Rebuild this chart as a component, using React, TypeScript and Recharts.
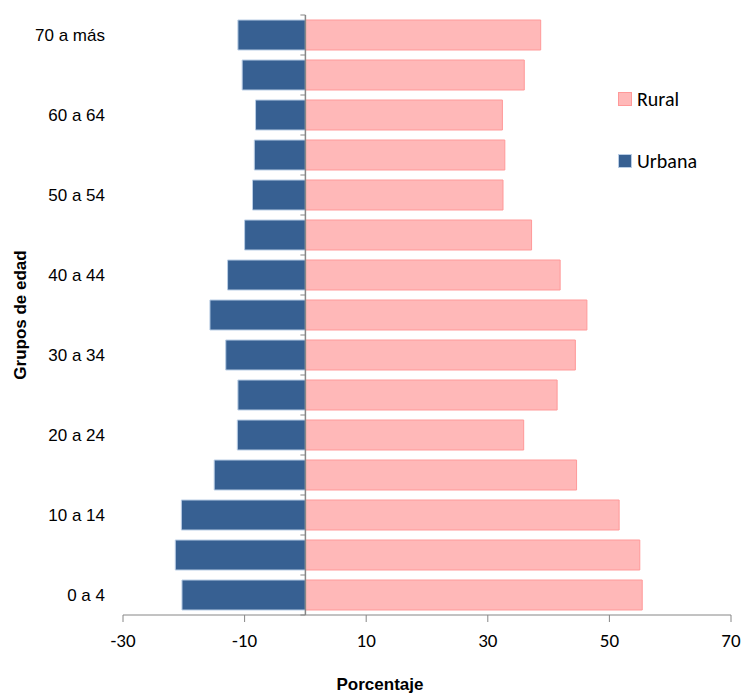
import { BarChart, Bar, XAxis, YAxis, ReferenceLine } from "recharts";

const grupos = [
  "0 a 4", "5 a 9", "10 a 14", "15 a 19", "20 a 24", "25 a 29", "30 a 34", "35 a 39",
  "40 a 44", "45 a 49", "50 a 54", "55 a 59", "60 a 64", "65 a 69", "70 a más",
];
const urbana = [-20.3, -21.4, -20.4, -15.0, -11.2, -11.1, -13.1, -15.7, -12.8, -10.0, -8.7, -8.4, -8.2, -10.4, -11.1];
const rural = [55.4, 55.0, 51.6, 44.6, 35.9, 41.4, 44.4, 46.3, 41.9, 37.2, 32.5, 32.8, 32.4, 36.0, 38.7];
const xTicks = [-30, -10, 10, 30, 50, 70];
const series = [
  { name: "Rural", fill: "#ffb8b8", stroke: "#ff9999" },
  { name: "Urbana", fill: "#376092", stroke: "#b9cde5" },
];

const data = grupos.map((g, i) => ({ grupo: g, Urbana: urbana[i], Rural: rural[i] }));

const narrow = "'Liberation Sans Narrow', 'Arial Narrow', 'Liberation Sans', Arial, sans-serif";
const calibri = "Carlito, Calibri, Lato, sans-serif";
const axisGrey = "#868686";

// vertical axis at zero with small ticks on the category boundaries
const ZeroAxis = (props: any) => {
  const { x1, y1, x2, y2 } = props;
  const n = grupos.length;
  const step = (y2 - y1) / n;
  const marks = [];
  for (let i = 0; i <= n; i++) {
    const y = y1 + step * i;
    marks.push(<line key={i} x1={x1 - 5} x2={x1} y1={y} y2={y} stroke={axisGrey} strokeWidth={1} />);
  }
  return (
    <g>
      {marks}
      <line x1={x1} y1={y1} x2={x2} y2={y2} stroke={axisGrey} strokeWidth={1.5} />
    </g>
  );
};

export default function App() {
  return (
    <div style={{ position: "absolute", left: 0, top: 0, width: 745, height: 695, background: "#fff" }}>
      <BarChart
        width={745}
        height={695}
        data={data}
        layout="vertical"
        stackOffset="sign"
        margin={{ top: 15, right: 14, bottom: 0, left: 0 }}
      >
        <XAxis
          type="number"
          domain={[-30, 70]}
          ticks={xTicks}
          allowDataOverflow
          stroke={axisGrey}
          tickSize={7}
          tickMargin={12}
          tick={{ fontFamily: calibri, fontSize: 19, fill: "#000" }}
          height={80}
          label={{
            value: "Porcentaje",
            position: "insideBottom",
            offset: 5,
            dx: -47,
            style: { fontFamily: narrow, fontSize: 17, fontWeight: "bold", fill: "#000" },
          }}
        />
        <YAxis
          type="category"
          dataKey="grupo"
          reversed
          interval={1}
          width={123}
          axisLine={false}
          tickLine={false}
          tickSize={0}
          tickMargin={18}
          tick={{ fontFamily: narrow, fontSize: 17, fill: "#000" }}
          label={{
            content: (p: any) => {
              const vb = p.viewBox;
              const cx = vb.x + 20;
              const cy = vb.y + vb.height / 2;
              return (
                <text
                  x={cx}
                  y={cy}
                  transform={`rotate(-90 ${cx} ${cy})`}
                  textAnchor="middle"
                  dominantBaseline="central"
                  style={{ fontFamily: narrow, fontSize: 17, fontWeight: "bold", fill: "#000" }}
                >
                  Grupos de edad
                </text>
              );
            },
          }}
        />
        <Bar dataKey="Rural" stackId="a" barSize={30} fill={series[0].fill} stroke={series[0].stroke} strokeWidth={1} isAnimationActive={false} />
        <Bar dataKey="Urbana" stackId="a" barSize={30} fill={series[1].fill} stroke={series[1].stroke} strokeWidth={1} isAnimationActive={false} />
        <ReferenceLine x={0} shape={ZeroAxis} />
      </BarChart>
      <div style={{ position: "absolute", left: 618, top: 86, fontFamily: calibri, fontSize: 20, color: "#000" }}>
        {series.map((s) => (
          <div key={s.name} style={{ display: "flex", alignItems: "center", height: 26, marginBottom: 36 }}>
            <span
              style={{
                display: "inline-block",
                width: 12,
                height: 12,
                background: s.fill,
                border: `1px solid ${s.stroke}`,
                marginRight: 5,
              }}
            />
            {s.name}
          </div>
        ))}
      </div>
    </div>
  );
}
